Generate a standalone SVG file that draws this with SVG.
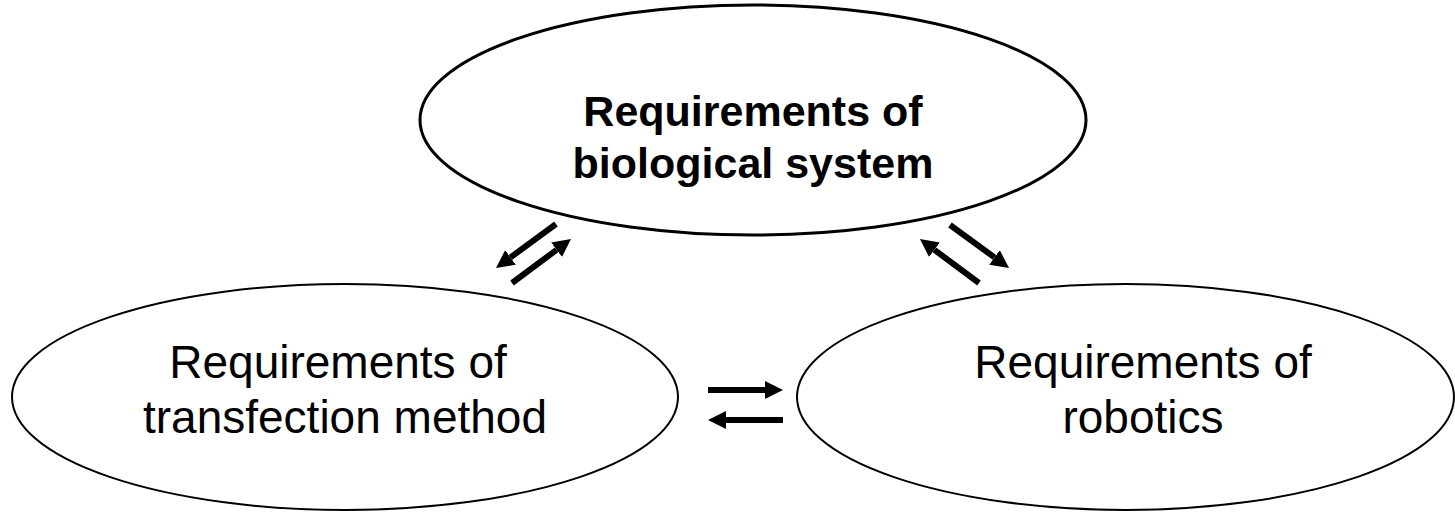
<svg xmlns="http://www.w3.org/2000/svg" width="1455" height="513" viewBox="0 0 1455 513">
<style>
.node{fill:#fff;stroke:#000}
.t{font-family:"Liberation Sans",Arial,sans-serif;text-anchor:middle;fill:#000}
.b{font-weight:bold;font-size:43px}
.r{font-size:46px}
.c{stroke:#000;stroke-width:6;fill:none;marker-end:url(#ah)}
</style>
<defs>
<marker id="ah" markerUnits="strokeWidth" markerWidth="3" markerHeight="3" refX="0" refY="5" viewBox="0 0 10 10" orient="auto">
<path d="M0,0 L10,5 L0,10 z" fill="#000"/>
</marker>
</defs>
<rect width="1455" height="513" fill="#fff"/>
<g id="bio">
<ellipse class="node" cx="753" cy="120" rx="333" ry="115" stroke-width="3"/>
<text class="t b" x="753" y="126">Requirements of</text>
<text class="t b" x="753" y="178">biological system</text>
</g>
<g id="transfection">
<ellipse class="node" cx="345" cy="397" rx="333" ry="113" stroke-width="2"/>
<text class="t r" x="338" y="378">Requirements of</text>
<text class="t r" x="345" y="433">transfection method</text>
</g>
<g id="robotics">
<ellipse class="node" cx="1125.5" cy="397" rx="328.5" ry="113" stroke-width="2"/>
<text class="t r" x="1143" y="378">Requirements of</text>
<text class="t r" x="1143" y="433">robotics</text>
</g>
<g id="connectors">
<line class="c" x1="556" y1="224" x2="510.5" y2="257.4"/>
<line class="c" x1="512" y1="283" x2="556.6" y2="249.8"/>
<line class="c" x1="950" y1="225" x2="994.5" y2="257.4"/>
<line class="c" x1="979" y1="283" x2="934.4" y2="249.8"/>
<line class="c" x1="708" y1="390" x2="765" y2="390"/>
<line class="c" x1="783" y1="420" x2="726" y2="420"/>
</g>
</svg>
